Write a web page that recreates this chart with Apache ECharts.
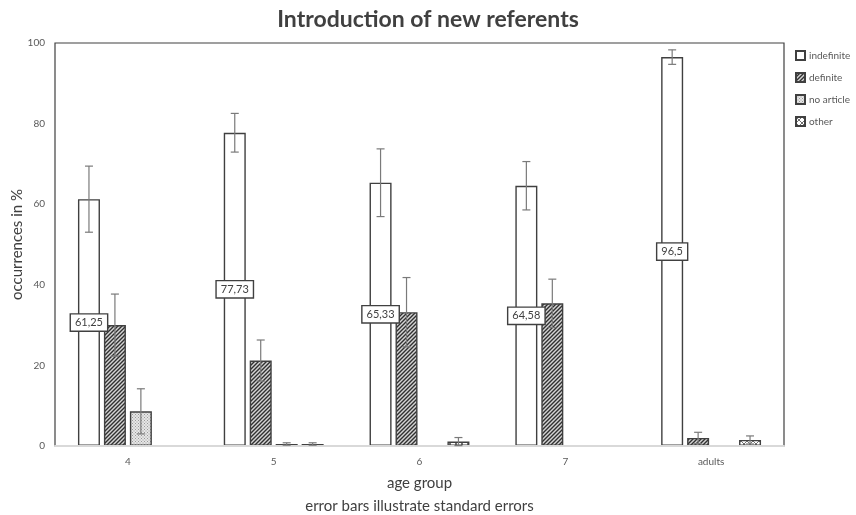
<!DOCTYPE html>
<html>
<head>
<meta charset="utf-8">
<script src="https://cdn.jsdelivr.net/npm/echarts@6/dist/echarts.min.js"></script>
<style>
  html, body { margin: 0; padding: 0; background: #fff; }
  #chart { width: 856px; height: 515px; }
</style>
</head>
<body>
<div id="chart"></div>
<script>
// Age groups on the x axis
const ageGroups = ['4', '5', '6', '7', 'adults'];

// Article type shares (%) per age group
const indefinite = [61.25, 77.73, 65.33, 64.58, 96.5];
const definite   = [30.0, 21.2, 33.2, 35.4, 2.0];
const noArticle  = [8.6, 0.5, 0, 0, 0];
const other      = [0, 0.5, 1.1, 0, 1.5];

// Standard errors for each bar
const indefiniteSE = [8.2, 4.8, 8.4, 6.0, 1.8];
const definiteSE   = [7.7, 5.1, 8.6, 6.0, 1.4];
const noArticleSE  = [5.6, 0.3, 0, 0, 0];
const otherSE      = [0, 0.3, 1.0, 0, 1.0];

// Y axis ticks
const yTicks = [0, 20, 40, 60, 80, 100];

const seriesNames = ['indefinite', 'definite', 'no article', 'other'];
const seriesValues = [indefinite, definite, noArticle, other];
const seriesErrors = [indefiniteSE, definiteSE, noArticleSE, otherSE];

const FONT = 'Lato, "Open Sans", sans-serif';
const INK = '#404040';
const BAR_W = 22;
const BAR_GAP = 0.18;

// Fill patterns for the hatched bars
function makePattern(kind) {
  const c = document.createElement('canvas');
  const s = kind === 'dots' ? 3 : (kind === 'cross' ? 6 : 4);
  c.width = s; c.height = s;
  const g = c.getContext('2d');
  g.fillStyle = '#ffffff';
  g.fillRect(0, 0, s, s);
  if (kind === 'hatch') {
    g.fillStyle = '#d4d4d4';
    g.fillRect(0, 0, s, s);
    g.strokeStyle = '#303030';
    g.lineWidth = 1.4;
    g.beginPath();
    g.moveTo(-1, s + 1); g.lineTo(s + 1, -1);
    g.moveTo(-1, 1); g.lineTo(1, -1);
    g.moveTo(s - 1, s + 1); g.lineTo(s + 1, s - 1);
    g.stroke();
  } else if (kind === 'dots') {
    g.fillStyle = '#e6e6e6';
    g.fillRect(0, 0, s, s);
    g.fillStyle = '#9a9a9a';
    g.fillRect(0, 0, 1, 1);
    g.fillRect(1.5, 1.5, 1, 1);
  } else if (kind === 'cross') {
    g.strokeStyle = '#707070';
    g.lineWidth = 1;
    g.beginPath();
    g.moveTo(0, 0); g.lineTo(s, s);
    g.moveTo(s, 0); g.lineTo(0, s);
    g.stroke();
  }
  return { image: c, repeat: 'repeat' };
}

const fills = [
  '#ffffff',
  makePattern('hatch'),
  makePattern('dots'),
  makePattern('cross')
];

function commaNum(v) {
  return String(v).replace('.', ',');
}

const series = [];
seriesNames.forEach(function (name, i) {
  const bar = {
    name: name,
    type: 'bar',
    data: seriesValues[i],
    barWidth: BAR_W,
    barGap: (BAR_GAP * 100) + '%',
    itemStyle: {
      color: fills[i],
      borderColor: INK,
      borderWidth: 1.4
    },
    emphasis: { disabled: true },
    z: 2
  };
  if (i === 0) {
    bar.label = {
      show: true,
      position: 'inside',
      formatter: function (p) { return commaNum(p.value); },
      fontFamily: FONT,
      fontSize: 11,
      color: INK,
      backgroundColor: '#ffffff',
      borderColor: INK,
      borderWidth: 1.4,
      padding: [3, 4, 2, 4]
    };
  }
  series.push(bar);
});

// Error bars drawn on top of each bar, shifted to the bar's slot in the group
seriesNames.forEach(function (name, i) {
  const data = seriesValues[i].map(function (v, k) {
    return [k, v, seriesErrors[i][k]];
  });
  series.push({
    type: 'custom',
    name: name + ' error',
    data: data,
    z: 5,
    silent: true,
    renderItem: function (params, api) {
      const k = api.value(0);
      const v = api.value(1);
      const se = api.value(2);
      if (!se) return null;
      const n = seriesNames.length;
      const pitch = BAR_W * (1 + BAR_GAP);
      const offset = -((n - 1) * pitch) / 2 + i * pitch;
      const hi = api.coord([k, v + se]);
      const lo = api.coord([k, Math.max(0, v - se)]);
      const x = hi[0] + offset;
      const cap = 4;
      const style = { stroke: '#7a7a7a', lineWidth: 1.2 };
      return {
        type: 'group',
        children: [
          { type: 'line', shape: { x1: x, y1: hi[1], x2: x, y2: lo[1] }, style: style },
          { type: 'line', shape: { x1: x - cap, y1: hi[1], x2: x + cap, y2: hi[1] }, style: style },
          { type: 'line', shape: { x1: x - cap, y1: lo[1], x2: x + cap, y2: lo[1] }, style: style }
        ]
      };
    }
  });
});

const chart = echarts.init(document.getElementById('chart'), null, { renderer: 'canvas' });
chart.setOption({
  animation: false,
  backgroundColor: '#ffffff',
  title: {
    text: 'Introduction of new referents',
    left: 'center',
    top: 3,
    textStyle: { fontFamily: FONT, fontSize: 23, fontWeight: 'bold', color: INK }
  },
  legend: {
    data: seriesNames,
    orient: 'vertical',
    left: 790,
    top: 45,
    itemWidth: 9,
    itemHeight: 9,
    itemGap: 11,
    icon: 'rect',
    textStyle: { fontFamily: FONT, fontSize: 10, color: '#595959', padding: [0, 0, 0, -1] }
  },
  grid: {
    left: 55,
    right: 72,
    top: 43,
    bottom: 69,
    outerBoundsMode: 'none',
    containLabel: false,
    show: true,
    borderColor: INK,
    borderWidth: 1.2,
    backgroundColor: 'transparent'
  },
  xAxis: {
    type: 'category',
    data: ageGroups,
    barCategoryGap: '31%',
    axisLine: { show: true, lineStyle: { color: '#d9d9d9', width: 2 } },
    axisTick: { show: false },
    axisLabel: { fontFamily: FONT, fontSize: 10, color: '#595959', margin: 11 },
    name: 'age group\nerror bars illustrate standard errors',
    nameLocation: 'middle',
    nameGap: 26,
    nameMoveOverlap: false,
    nameTextStyle: { fontFamily: FONT, fontSize: 15, color: INK, lineHeight: 23 },
    z: 3
  },
  yAxis: {
    type: 'value',
    min: yTicks[0],
    max: yTicks[yTicks.length - 1],
    interval: yTicks[1] - yTicks[0],
    splitLine: { show: false },
    axisLine: { show: false },
    axisTick: { show: false },
    axisLabel: { fontFamily: FONT, fontSize: 10, color: '#595959', margin: 10 },
    name: 'occurrences in %',
    nameLocation: 'middle',
    nameGap: 30,
    nameMoveOverlap: false,
    nameTextStyle: { fontFamily: FONT, fontSize: 15, color: INK }
  },
  series: series
});
</script>
</body>
</html>
